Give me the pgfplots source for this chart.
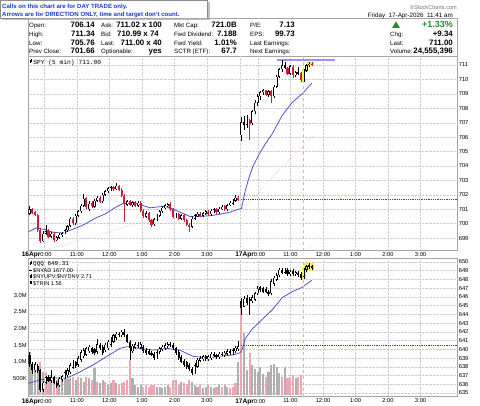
\documentclass[border=0pt]{standalone}
\usepackage{fontspec}
\setmainfont{Liberation Sans}
\setmonofont{Liberation Mono}
\usepackage{pgfplots}
\pgfplotsset{compat=1.18}
\usepackage{pgfplotstable}
\definecolor{cred}{RGB}{215,25,55}
\definecolor{cblue}{RGB}{75,75,205}
\definecolor{cpink}{RGB}{244,180,192}
\definecolor{cvgray}{RGB}{176,176,176}
\definecolor{cvpink}{RGB}{240,165,178}
\definecolor{cyel}{RGB}{240,190,70}
\definecolor{cyfill}{RGB}{250,236,80}
\definecolor{cpc}{RGB}{50,50,235}
\definecolor{ctop}{RGB}{150,150,250}
\definecolor{chead}{RGB}{25,60,210}
\definecolor{cgreen}{RGB}{40,140,40}
\definecolor{cframe}{RGB}{165,165,165}
\definecolor{cgrid}{RGB}{205,205,205}

\pgfplotstableread{
x o h l c s
0 700.70 701.20 700.60 701.00 0
1 701.00 701.10 700.65 700.75 1
2 700.80 700.90 700.50 700.60 1
3 700.60 700.70 699.45 699.60 1
4 699.60 699.70 698.65 698.80 1
5 698.80 699.50 698.70 699.30 0
6 699.30 699.90 699.20 699.50 0
7 699.50 699.60 699.00 699.10 1
8 699.10 699.45 699.00 699.30 0
9 699.30 699.40 698.75 698.90 1
10 698.90 699.15 698.80 699.05 0
11 699.05 699.35 698.95 699.25 0
12 699.20 699.45 699.10 699.35 0
13 699.35 699.65 699.25 699.55 0
14 699.55 699.95 699.45 699.85 0
15 699.85 700.45 699.75 700.35 0
16 700.35 700.45 699.90 700.05 1
17 700.05 700.65 699.95 700.55 0
18 700.55 700.95 700.45 700.85 0
19 700.85 701.35 700.75 701.25 0
20 701.25 702.05 701.15 701.75 0
21 701.75 701.85 701.05 701.15 1
22 701.00 701.55 700.90 701.40 0
23 701.45 701.55 701.10 701.20 1
24 701.20 701.70 701.10 701.60 0
25 701.60 701.90 701.50 701.80 0
26 701.80 701.90 701.45 701.55 1
27 701.55 702.10 701.45 702.00 0
28 702.00 702.35 701.90 702.25 0
29 702.25 702.55 702.15 702.45 0
30 702.40 702.65 702.30 702.55 0
31 702.55 702.65 702.30 702.40 1
32 702.40 702.80 702.30 702.65 0
33 702.60 702.70 702.25 702.35 1
34 702.35 702.45 701.85 701.95 1
35 701.95 702.05 700.10 701.45 1
36 701.30 701.65 701.20 701.55 0
37 701.55 701.65 701.20 701.30 1
38 701.30 701.60 701.20 701.50 0
39 701.50 701.60 701.15 701.25 1
40 701.25 701.55 701.15 701.45 0
41 701.45 701.55 700.80 700.90 1
42 700.90 701.00 700.40 700.50 1
43 700.50 700.85 700.40 700.75 0
44 700.75 700.85 700.15 700.25 1
45 700.25 700.35 699.75 699.95 1
46 699.95 700.40 699.85 700.30 0
47 700.30 700.65 700.20 700.55 0
48 700.55 700.95 700.45 700.85 0
49 700.85 701.20 700.75 701.10 0
50 701.10 701.40 701.00 701.30 0
51 701.25 701.45 701.15 701.35 0
52 701.40 701.50 700.90 701.00 1
53 701.00 701.10 700.40 700.50 1
54 700.50 700.75 700.40 700.65 0
55 700.65 700.75 700.25 700.35 1
56 700.35 700.70 700.25 700.60 0
57 700.60 700.70 700.15 700.25 1
58 700.25 700.35 699.85 699.95 1
59 699.95 700.05 699.45 699.75 1
60 699.80 700.45 699.70 700.35 0
61 700.35 700.70 700.25 700.60 0
62 700.55 700.80 700.45 700.70 0
63 700.70 700.80 700.45 700.55 1
64 700.55 700.85 700.45 700.75 0
65 700.70 700.95 700.60 700.85 0
66 700.85 700.95 700.55 700.65 1
67 700.65 701.00 700.55 700.90 0
68 700.85 701.10 700.75 701.00 0
69 701.00 701.10 700.70 700.80 1
70 700.80 701.15 700.70 701.05 0
71 701.05 701.30 700.95 701.20 0
72 701.20 701.30 700.90 701.00 1
73 701.00 701.40 700.90 701.30 0
74 701.30 701.55 701.20 701.45 0
75 701.40 701.70 701.30 701.60 0
76 701.60 702.00 701.50 701.80 0
77 701.80 701.90 701.55 701.66 1
78.2 706.14 707.40 705.76 707.05 0
79.2 707.05 707.50 706.50 706.85 2
80.2 706.85 707.50 706.60 707.20 0
81.2 707.20 707.25 705.80 706.95 1
82.2 706.95 707.90 706.85 707.80 0
83.2 707.80 708.60 707.60 708.40 0
84.2 708.40 709.00 708.20 708.85 0
85.2 708.85 709.20 708.60 709.10 0
86.2 709.10 709.35 708.90 709.25 0
87.2 709.25 709.30 708.85 708.95 1
88.2 708.95 709.30 708.80 709.20 0
89.2 709.20 709.25 708.40 708.85 1
90.2 708.85 709.60 708.75 709.50 0
91.2 709.50 710.30 709.40 710.20 0
92.2 710.20 710.80 710.10 710.70 0
93.2 710.70 711.34 710.55 711.00 0
94.2 711.00 711.20 710.70 710.80 2
95.2 710.80 710.90 710.30 710.40 1
96.2 710.40 711.00 710.35 710.90 0
97.2 710.90 711.00 710.10 710.30 1
98.2 710.30 710.60 710.20 710.50 0
99.2 710.50 710.90 710.30 710.45 2
100.2 710.45 710.50 709.80 710.00 1
101.2 710.00 710.70 709.85 710.60 3
102.2 710.60 711.10 710.50 711.00 3
103.2 711.00 711.20 710.90 711.10 3
104.2 711.10 711.20 710.95 711.00 4
}\spy

\pgfplotstableread{
x o h l c s
0 639.30 639.70 638.00 638.30 2
1 638.30 638.50 637.20 637.60 2
2 637.60 638.50 637.40 638.30 0
3 638.10 638.30 637.30 637.50 2
4 637.60 637.80 635.10 635.30 2
5 635.40 636.40 635.10 636.20 0
6 636.20 637.00 636.00 636.80 0
7 636.80 637.00 636.20 636.40 2
8 636.40 637.60 636.20 636.80 0
9 636.80 637.00 636.00 636.20 2
10 636.20 636.40 635.60 635.80 2
11 635.90 636.80 635.70 636.60 0
12 636.50 637.10 636.30 636.90 0
13 636.80 637.60 636.60 637.40 0
14 637.00 637.80 636.80 637.60 0
15 637.40 638.40 637.20 638.20 0
16 637.90 638.80 637.70 638.60 0
17 638.50 638.70 637.90 638.10 2
18 638.20 639.20 638.00 639.00 0
19 638.80 639.90 638.60 639.70 0
20 639.20 640.10 639.00 639.90 0
21 639.40 640.30 639.20 640.10 0
22 639.80 640.50 639.60 640.30 0
23 640.10 640.30 639.50 639.70 2
24 640.00 640.20 639.40 639.60 2
25 639.70 641.20 639.50 640.60 0
26 640.50 640.70 639.90 640.10 2
27 640.30 640.50 639.40 639.60 2
28 639.90 640.70 639.70 640.50 0
29 640.10 641.10 639.90 640.90 0
30 640.50 641.40 640.30 641.20 0
31 640.90 641.80 640.70 641.60 0
32 641.30 642.00 641.10 641.80 0
33 641.80 642.00 641.40 641.60 2
34 641.60 642.20 641.40 642.00 0
35 642.00 642.30 641.40 641.60 2
36 641.60 641.80 640.70 640.90 2
37 640.90 641.10 638.80 640.10 2
38 639.80 640.60 639.60 640.40 0
39 640.20 640.80 640.00 640.60 0
40 640.50 640.80 640.20 640.40 2
41 640.20 640.80 640.00 640.60 0
42 640.30 640.50 639.60 639.80 2
43 639.90 640.10 639.40 639.60 2
44 639.80 640.00 639.30 639.50 2
45 639.60 639.80 639.20 639.40 2
46 639.50 639.70 638.80 639.00 2
47 639.10 639.90 638.90 639.70 0
48 639.70 640.30 639.50 640.10 0
49 640.00 640.50 639.80 640.30 0
50 640.10 640.70 639.90 640.50 0
51 640.40 640.80 640.20 640.60 0
52 640.60 640.80 640.30 640.50 2
53 640.50 640.70 639.90 640.10 2
54 640.10 640.30 639.40 639.60 2
55 639.70 639.90 638.80 639.00 2
56 639.10 639.30 638.40 638.60 2
57 638.70 638.90 638.00 638.20 2
58 638.50 638.70 637.80 638.00 2
59 638.20 638.40 637.50 637.70 2
60 637.80 638.00 637.00 637.30 2
61 637.40 638.40 637.20 638.20 0
62 638.00 639.00 637.80 638.80 0
63 638.70 639.20 638.50 639.00 0
64 638.90 639.40 638.70 639.20 0
65 639.20 639.40 638.70 638.90 2
66 638.90 639.40 638.70 639.20 0
67 639.00 639.70 638.80 639.50 0
68 639.50 639.70 639.10 639.30 2
69 639.30 639.50 638.90 639.10 2
70 639.10 639.70 638.90 639.50 0
71 639.50 639.70 639.20 639.40 2
72 639.30 639.80 639.10 639.60 0
73 639.50 640.00 639.30 639.80 0
74 639.80 640.00 639.40 639.60 2
75 639.60 640.10 639.40 639.90 0
76 639.80 640.40 639.60 640.20 0
77 640.00 640.90 639.80 640.38 0
78.2 645.50 645.90 643.90 644.70 2
79.2 644.90 646.10 644.80 645.80 0
80.2 645.90 646.20 645.10 645.30 2
81.2 645.80 646.00 643.90 645.50 2
82.2 645.50 646.20 645.30 646.00 0
83.2 645.70 646.60 645.50 646.40 0
84.2 646.40 647.20 646.20 646.95 0
85.2 647.10 647.30 646.60 646.80 2
86.2 647.00 647.20 646.40 646.60 2
87.2 646.90 647.10 646.40 646.60 2
88.2 646.60 646.80 646.10 646.40 2
89.2 646.40 648.00 646.20 647.80 0
90.2 647.50 648.40 647.30 648.20 0
91.2 648.00 648.70 647.80 648.50 0
92.2 648.50 649.30 648.30 649.10 0
93.2 649.10 649.30 648.60 648.80 2
94.2 648.80 649.30 648.60 649.10 0
95.2 649.10 649.30 648.40 648.60 2
96.2 648.60 649.10 648.40 648.90 0
97.2 649.00 649.20 648.40 648.60 2
98.2 648.60 649.00 648.40 648.85 0
99.2 648.80 649.00 648.30 648.50 2
100.2 648.60 648.80 647.90 648.20 2
101.2 648.30 649.30 648.10 649.10 3
102.2 649.10 649.70 648.90 649.50 3
103.2 649.70 649.90 649.20 649.40 5
104.2 649.50 649.70 649.10 649.31 5
}\qqq

\pgfplotstableread{
x v s
0 1.30 0
1 0.90 0
2 0.80 0
3 0.75 0
4 1.00 1
5 0.70 0
6 0.70 1
7 0.55 1
8 0.60 0
9 0.50 1
10 0.45 1
11 0.50 0
12 0.45 0
13 0.50 0
14 0.48 0
15 0.50 0
16 0.55 1
17 0.45 0
18 0.55 1
19 0.50 0
20 0.40 0
21 0.55 1
22 0.50 0
23 0.45 1
24 0.80 0
25 0.40 1
26 0.35 0
27 0.45 0
28 0.40 1
29 0.30 0
30 0.35 0
31 0.45 1
32 0.35 0
33 0.30 1
34 0.35 1
35 0.40 1
36 0.45 1
37 1.05 1
38 0.50 0
39 0.30 0
40 0.25 0
41 0.30 0
42 0.25 1
43 0.30 1
44 0.25 1
45 0.30 1
46 0.30 1
47 0.25 0
48 0.25 0
49 0.20 0
50 0.25 0
51 0.30 0
52 0.25 1
53 0.45 1
54 0.45 1
55 0.30 1
56 0.40 0
57 0.35 1
58 0.30 1
59 0.45 1
60 0.40 0
61 0.30 0
62 0.25 0
63 0.30 1
64 0.20 0
65 0.25 0
66 0.30 1
67 0.25 0
68 0.20 0
69 0.25 1
70 0.30 0
71 0.25 1
72 0.30 0
73 0.25 0
74 0.20 1
75 0.25 1
76 0.35 1
77 1.00 0
78.2 2.75 1
79.2 1.85 0
80.2 0.75 0
81.2 1.25 1
82.2 0.90 0
83.2 0.78 0
84.2 0.68 0
85.2 0.83 0
86.2 0.63 0
87.2 0.55 1
88.2 0.70 0
89.2 0.90 0
90.2 0.93 0
91.2 0.85 0
92.2 0.65 0
93.2 0.55 1
94.2 0.85 0
95.2 0.50 1
96.2 0.55 1
97.2 0.60 1
98.2 0.50 0
99.2 0.55 1
100.2 0.60 1
}\vol

\pgfplotsset{
  wick/.style={draw=none, mark=none, forget plot,
    error bars/y dir=both, error bars/y explicit, error bars/error mark=none,
    error bars/error bar style={draw=#1, solid, line width=0.45bp}},
  bodyb/.style n args={2}{draw=none, mark=none, forget plot,
    error bars/y dir=both, error bars/y explicit, error bars/error mark=none,
    error bars/error bar style={draw=#1, solid, line width=#2}},
  panel/.style={scale only axis, width=428.6bp, xmin=-0.41, xmax=157.75,
    axis line style={draw=cframe, line width=0.45bp},
    major tick length=0pt,
    xtick={5.5,17.5,29.5,41.5,53.5,65.5,84.3,96.3,108.3,120.3,132.3,144.3},
    xticklabels={\dayl{16Apr},11:00,12:00,1:00,2:00,3:00,\dayl{17Apr},11:00,12:00,1:00,2:00,3:00},
    extra x ticks={77.8}, extra x tick labels={},
    extra x tick style={grid=major},
    grid style={draw=cgrid, densely dotted, line width=0.4bp},
    tick label style={font=\fontsize{5.8}{6}\selectfont, inner sep=1.6pt},
    /pgf/number format/assume math mode=true,
    /pgf/number format/1000 sep={},
    yticklabel pos=right,
  },
}
\newcommand\dayl[1]{\phantom{1}\llap{\fontsize{6.6}{7}\selectfont\bfseries #1}0:00}

\newcommand\wicks[3]{%
  \addplot[wick=#3, restrict expr to domain={\thisrow{s}}{#2:#2}]
    table[x=x, y expr={(\thisrow{h}+\thisrow{l})/2}, y error expr={(\thisrow{h}-\thisrow{l})/2}] {#1};}
\newcommand\bodies[5]{%
  \addplot[bodyb={#3}{#4}, restrict expr to domain={\thisrow{s}}{#2:#2}]
    table[x=x, y expr={(\thisrow{o}+\thisrow{c})/2}, y error expr={max(abs(\thisrow{o}-\thisrow{c})/2-(#5),0.02)}] {#1};}

\begin{document}
\begin{tikzpicture}
\path[use as bounding box] (0bp,0bp) rectangle (480bp,406bp);
\fill[white] (0bp,0bp) rectangle (480bp,406bp);
\begin{scope}[x=1bp,y=1bp]
% ---------------- header -----------------
\fill[black!25] (2,406-20) rectangle (209.5,406-2.5);
\filldraw[fill=white, draw=black!45, line width=0.5bp] (0.5,406-18.5) rectangle (207.5,406-0.5);
\node[anchor=mid west, inner sep=0, text=chead, font=\fontsize{6.1}{7}\selectfont\bfseries] at (2,406-5.5) {Calls on this chart are for DAY TRADE only.};
\node[anchor=mid west, inner sep=0, text=chead, font=\fontsize{6.1}{7}\selectfont\bfseries] at (2,406-13.5) {Arrows are for DIRECTION ONLY, time and target don`t count.};
\node[anchor=mid east, inner sep=0, text=black!55, font=\fontsize{5.6}{6}\selectfont] at (457,406-6.5) {\textcopyright StockCharts.com};
\draw[cframe, line width=0.45bp] (28.4,406-18.5) -- (457,406-18.5);
\draw[cframe, line width=0.45bp] (28.4,406-18.5) -- (28.4,406-56.5);
\draw[cframe, line width=0.45bp] (457,406-18.5) -- (457,406-56.5);
\node[anchor=mid east, inner sep=0, font=\fontsize{6.3}{7}\selectfont] at (453,406-15) {Friday\ \ 17-Apr-2026\ \ 11:41 am};

\begin{scope}[every node/.style={inner sep=0}]
\def\ra{25}\def\rb{33.7}\def\rc{42.4}\def\rd{51.1}
\newcommand\lab[3]{\node[anchor=mid west, font=\fontsize{6.2}{7}\selectfont] at (#1,406-#2) {#3};}
\newcommand\val[3]{\node[anchor=mid east, font=\fontsize{7.9}{8}\selectfont\bfseries] at (#1,406-#2) {#3};}
\lab{29}{\ra}{Open:}\val{95}{\ra}{706.14}
\lab{29}{\rb}{High:}\val{95}{\rb}{711.34}
\lab{29}{\rc}{Low:}\val{95}{\rc}{705.76}
\lab{29}{\rd}{Prev Close:}\val{95}{\rd}{701.66}
\lab{101}{\ra}{Ask:}\val{162}{\ra}{711.02 x 100}
\lab{101}{\rb}{Bid:}\val{159}{\rb}{710.99 x 74}
\lab{101}{\rc}{Last:}\val{162}{\rc}{711.00 x 40}
\lab{101}{\rd}{Optionable:}\val{162}{\rd}{yes}
\lab{174}{\ra}{Mkt Cap:}\val{237}{\ra}{721.0B}
\lab{174}{\rb}{Fwd Dividend:}\val{237}{\rb}{7.188}
\lab{174}{\rc}{Fwd Yield:}\val{237}{\rc}{1.01\%}
\lab{174}{\rd}{SCTR (ETF):}\val{237}{\rd}{67.7}
\lab{250}{\ra}{P/E:}\val{295}{\ra}{7.13}
\lab{250}{\rb}{EPS:}\val{295}{\rb}{99.73}
\lab{250}{\rc}{Last Earnings:}
\lab{250}{\rd}{Next Earnings:}
\lab{390}{\rb}{Chg:}\val{453}{\rb}{+9.34}
\lab{390}{\rc}{Last:}\val{453}{\rc}{711.00}
\lab{390}{\rd}{Volume:}\val{453}{\rd}{24,555,396}
\node[anchor=mid east, text=cgreen, font=\fontsize{9}{9}\selectfont\bfseries] at (453,406-\ra) {+1.33\%};
\end{scope}
\fill[cgreen] (392,406-28) -- (400,406-28) -- (396,406-21.5) -- cycle;
\end{scope}

% ---------------- top panel: SPY -----------------
\begin{axis}[panel, at={(28.4bp,155.5bp)}, anchor=south west, height=194bp,
  ymin=698.14, ymax=711.59, ytick={699,...,711}, xmajorgrids, ymajorgrids]
  \addplot[cpink, densely dotted, line width=0.55bp] coordinates {
    (0,697.85) (6.1,698.17) (14.9,698.65) (26,699.25) (39.3,700.0) (51.9,700.3)
    (66.6,700.6) (77.7,700.8) (85,702.3) (92.4,703.8) (99.8,705.2) (104.6,706.1)};
  \addplot[cpink, densely dotted, line width=0.55bp] coordinates {(100.5,697.9) (104.6,698.5)};
  \addplot[cblue, line width=0.75bp] coordinates {
    (-0.41,699.44) (2.4,699.7) (5.5,699.6) (8.7,699.4) (12.4,699.35) (17.2,699.7)
    (20.8,700.0) (24.5,700.4) (28.2,700.7) (31.9,701.15) (34.5,701.4) (39.3,701.4)
    (44.5,701.1) (49.3,701.2) (51.8,701.1) (55.5,700.8) (59.2,700.5) (62.9,700.5)
    (66.6,700.55) (70.3,700.65) (74.0,700.8) (77.0,701.0) (78.2,701.05) (79.5,702.2)
    (81.0,703.2) (82.5,704.0) (84.7,704.8) (86.9,705.5) (89.5,706.2) (93.2,707.5)
    (96.9,708.4) (100.6,709.0) (104.2,709.75)};
  \addplot[cpc, densely dotted, line width=0.8bp] coordinates {(78,701.66) (157.75,701.66)};
  \addplot[ctop, line width=1.5bp] coordinates {(91.3,711.34) (112.7,711.34)};
  \addplot[cyel, dashed, line width=0.6bp] coordinates {(101.1,698.14) (101.1,711.59)};
  \addplot[bodyb={cyfill}{3.4bp}, restrict expr to domain={\thisrow{s}}{3:4}]
    table[x=x, y expr={(\thisrow{h}+\thisrow{l})/2}, y error expr={(\thisrow{h}-\thisrow{l})/2}] {\spy};
  \wicks{\spy}{0}{black}\bodies{\spy}{0}{black}{2.1bp}{0}\bodies{\spy}{0}{white}{0.8bp}{0.04}
  \wicks{\spy}{3}{black}\bodies{\spy}{3}{black}{2.1bp}{0}\bodies{\spy}{3}{cyfill}{0.8bp}{0.04}
  \wicks{\spy}{2}{black}\bodies{\spy}{2}{black}{2.1bp}{0}
  \wicks{\spy}{1}{cred}\bodies{\spy}{1}{cred}{2.1bp}{0}
  \wicks{\spy}{4}{cred}\bodies{\spy}{4}{cred}{2.1bp}{0}
  \node[anchor=mid west, inner sep=0, font=\ttfamily\fontsize{6.3}{7}\selectfont] at (rel axis cs:0.011,0.972) {SPY (5 min) 711.00};
\end{axis}

% ---------------- bottom panel: frame + grid -----------------
\begin{axis}[panel, at={(28.4bp,9.3bp)}, anchor=south west, height=138.4bp,
  ymin=634.57, ymax=650.42, ytick={635,...,650}, xmajorgrids, ymajorgrids]
  \addplot[draw=none, forget plot] coordinates {(0,640) (1,640)};
\end{axis}
\begin{axis}[scale only axis, width=428.6bp, height=138.4bp, at={(28.4bp,9.3bp)}, anchor=south west,
  xmin=-0.41, xmax=157.75, ymin=-0.051, ymax=4.105,
  axis line style={draw=none}, xtick=\empty, major tick length=0pt,
  ytick={0.5,1,1.5,2,2.5,3}, yticklabels={500K,1.0M,1.5M,2.0M,2.5M,3.0M},
  yticklabel style={font=\fontsize{5.8}{6}\selectfont, inner sep=1.6pt}]
  \addplot[ycomb, draw=cvgray, line width=2.1bp, restrict expr to domain={\thisrow{s}}{0:0}] table[x=x, y=v] {\vol};
  \addplot[ycomb, draw=cvpink, line width=2.1bp, restrict expr to domain={\thisrow{s}}{1:1}] table[x=x, y=v] {\vol};
\end{axis}
\begin{axis}[scale only axis, width=428.6bp, height=138.4bp, at={(28.4bp,9.3bp)}, anchor=south west,
  xmin=-0.41, xmax=157.75, ymin=634.57, ymax=650.42, hide axis]
  \addplot[cblue, line width=0.75bp] coordinates {
    (-0.41,636.1) (3.9,636.5) (8.7,636.7) (13.8,636.7) (18.6,637.4) (23.4,638.2)
    (28.6,639.2) (33.4,640.1) (36,640.3) (40.8,640.1) (45.6,639.9) (50.7,640.1)
    (55.5,639.9) (60.3,639.2) (65.5,639.0) (70.3,639.2) (75.1,639.35) (77.7,639.6)
    (78.5,640.0) (79.6,641.2) (82.1,642.3) (85.8,643.4) (89.5,644.5) (93.2,645.9)
    (96.9,646.6) (100.6,647.1) (104.2,647.9)};
  \addplot[cpc, densely dotted, line width=0.8bp] coordinates {(78,640.4) (157.75,640.4)};
  \addplot[cyel, dashed, line width=0.6bp] coordinates {(101.1,634.57) (101.1,650.42)};
  \addplot[bodyb={cyfill}{4bp}, restrict expr to domain={\thisrow{s}}{3:5}]
    table[x=x, y expr={(\thisrow{h}+\thisrow{l})/2}, y error expr={(\thisrow{h}-\thisrow{l})/2+0.15}] {\qqq};
  \wicks{\qqq}{0}{black}\bodies{\qqq}{0}{black}{2.1bp}{0}\bodies{\qqq}{0}{white}{0.8bp}{0.06}
  \wicks{\qqq}{3}{black}\bodies{\qqq}{3}{black}{2.1bp}{0}\bodies{\qqq}{3}{cyfill}{0.8bp}{0.06}
  \wicks{\qqq}{2}{black}\bodies{\qqq}{2}{black}{2.1bp}{0}
  \wicks{\qqq}{5}{black}\bodies{\qqq}{5}{black}{2.1bp}{0}
\end{axis}

\begin{scope}[x=1bp,y=1bp]
\fill[black] (29.6,406-63) rectangle (30.6,406-60);
\fill[black] (31.2,406-62) rectangle (32.2,406-59.5);
\begin{scope}[every node/.style={inner sep=0, anchor=mid west}]
\node[font=\ttfamily\fontsize{6}{7}\selectfont] at (33,406-263.3) {QQQ 649.31};
\node[font=\fontsize{5.6}{6}\selectfont] at (33,406-270) {\$NYAD 1677.00};
\node[font=\fontsize{5.6}{6}\selectfont] at (33,406-276.3) {\$NYUPV:\$NYDNV 2.71};
\node[font=\fontsize{5.6}{6}\selectfont] at (33,406-282.5) {\$TRIN 1.56};
\end{scope}
\fill[black] (29.6,406-264.8) rectangle (30.6,406-261.8);
\fill[black] (31.2,406-264) rectangle (32.2,406-261.3);
\draw[black, line width=0.7bp] (29.3,406-270) -- (32.3,406-270);
\fill[black] (29.5,406-278) rectangle (30.5,406-275);\fill[black] (31,406-278) rectangle (32,406-274.5);
\fill[black] (29.5,406-284.2) rectangle (30.5,406-281.2);\fill[black] (31,406-284.2) rectangle (32,406-280.7);
\end{scope}
\end{tikzpicture}
\end{document}
